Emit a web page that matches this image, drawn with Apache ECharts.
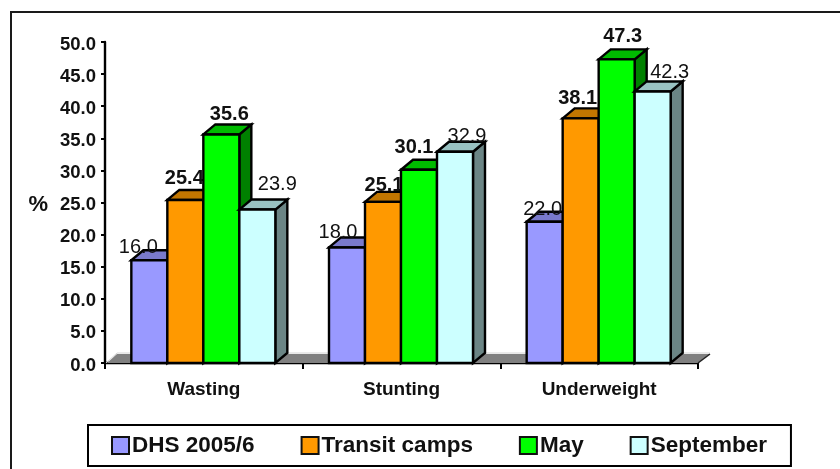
<!DOCTYPE html>
<html>
<head>
<meta charset="utf-8">
<style>
  html, body { margin: 0; padding: 0; background: #fff; }
  #frame { position: absolute; left: 10px; top: 11px; width: 840px; height: 470px; border: 2px solid #1a1a1a; box-sizing: border-box; }
  #chart { position: absolute; left: 0; top: 0; width: 840px; height: 469px; }
</style>
<script src="https://cdn.jsdelivr.net/npm/echarts@6/dist/echarts.min.js"></script>
</head>
<body>
<div id="frame"></div>
<div id="chart"></div>
<script>
const categories = ['Wasting', 'Stunting', 'Underweight'];
const dhs = [16.0, 18.0, 22.0];
const transit = [25.4, 25.1, 38.1];
const may = [35.6, 30.1, 47.3];
const september = [23.9, 32.9, 42.3];
const yTicks = { min: 0, max: 50, interval: 5 };

const FONT = '"Liberation Sans", Arial, sans-serif';
const DEPTH_X = 12;
const DEPTH_Y = 10;
const BAR_W = 36;

// front, top and side faces of each series
const palette = [
  { front: '#9999ff', top: '#7a7acc', side: '#5c5c99' },
  { front: '#ff9900', top: '#c27600', side: '#995c00' },
  { front: '#00ff00', top: '#00bb00', side: '#008000' },
  { front: '#ccffff', top: '#99c2c2', side: '#6b8585' }
];

// hand-placed value labels: pixel nudges per series and category
const labelNudges = [
  [[-11, 12], [-9, 10], [-2, 13]],
  [[-1, 4], [1, 9], [-3, 5]],
  [[8, 5], [-5, 3], [6, 2]],
  [[20, 0], [12, 10], [17, 6]]
];

// One 3D column: front rectangle plus projected top and side, and its value label
function columnRenderer(seriesIndex, bold) {
  const c = palette[seriesIndex];
  return function (params, api) {
    const val = api.value(1);
    const base = api.coord([api.value(0), 0]);
    const tip = api.coord([api.value(0), val]);
    const x = base[0] - 0.5 + (seriesIndex - 2) * BAR_W;
    const line = { stroke: '#000', lineWidth: 2.4, lineJoin: 'miter' };
    const nudge = labelNudges[seriesIndex][params.dataIndex];
    return {
      type: 'group',
      children: [
        { type: 'polygon', shape: { points: [[x + BAR_W, tip[1]], [x + BAR_W + DEPTH_X, tip[1] - DEPTH_Y], [x + BAR_W + DEPTH_X, base[1] - DEPTH_Y], [x + BAR_W, base[1]]] }, style: Object.assign({ fill: c.side }, line) },
        { type: 'polygon', shape: { points: [[x, tip[1]], [x + DEPTH_X, tip[1] - DEPTH_Y], [x + BAR_W + DEPTH_X, tip[1] - DEPTH_Y], [x + BAR_W, tip[1]]] }, style: Object.assign({ fill: c.top }, line) },
        { type: 'rect', shape: { x: x, y: tip[1], width: BAR_W, height: base[1] - tip[1] }, style: Object.assign({ fill: c.front }, line) },
        { type: 'text', x: x + BAR_W / 2 + nudge[0], y: tip[1] - DEPTH_Y - 5 + nudge[1], style: { text: val.toFixed(1), fill: '#111', font: (bold ? 'bold ' : '') + '20px ' + FONT, align: 'center', verticalAlign: 'bottom' }, z2: 10 }
      ]
    };
  };
}

// Floor of the 3D plot, running behind the columns
function floorRenderer(params, api) {
  const cs = params.coordSys;
  const y0 = api.coord([0, 0])[1];
  const l = cs.x, r = cs.x + cs.width;
  return {
    type: 'group',
    children: [
      { type: 'polygon', shape: { points: [[l + 2, y0], [l + DEPTH_X, y0 - DEPTH_Y + 1], [r + DEPTH_X, y0 - DEPTH_Y + 1], [r, y0]] }, style: { fill: '#808080' } },
      { type: 'line', shape: { x1: l + DEPTH_X, y1: y0 - DEPTH_Y, x2: r + DEPTH_X, y2: y0 - DEPTH_Y }, style: { stroke: '#d4d4d4', lineWidth: 1 } },
      { type: 'line', shape: { x1: l + 1, y1: y0, x2: l + DEPTH_X, y2: y0 - DEPTH_Y }, style: { stroke: '#d4d4d4', lineWidth: 1 } },
      { type: 'line', shape: { x1: r, y1: y0, x2: r + DEPTH_X, y2: y0 - DEPTH_Y + 1 }, style: { stroke: '#222', lineWidth: 1.5 } }
    ]
  };
}

function makeSeries(name, values, idx, bold) {
  return {
    name: name,
    type: 'custom',
    coordinateSystem: 'cartesian2d',
    renderItem: columnRenderer(idx, bold),
    encode: { x: 0, y: 1 },
    itemStyle: { color: palette[idx].front },
    data: values.map((v, i) => [i, v]),
    clip: false,
    z: 5 + idx
  };
}

const chart = echarts.init(document.getElementById('chart'), null, { renderer: 'canvas' });
chart.setOption({
  animation: false,
  backgroundColor: 'transparent',
  grid: { left: 105, right: 142, top: 42, bottom: 106, containLabel: false },
  xAxis: {
    type: 'category',
    data: categories,
    axisLine: { lineStyle: { color: '#000', width: 2.4 } },
    axisTick: { show: true, length: 6, alignWithLabel: false, lineStyle: { color: '#000', width: 2 } },
    axisLabel: { color: '#111', fontFamily: FONT, fontWeight: 'bold', fontSize: 19, margin: 17 }
  },
  yAxis: {
    type: 'value',
    min: yTicks.min,
    max: yTicks.max,
    interval: yTicks.interval,
    name: '%',
    nameLocation: 'middle',
    nameRotate: 0,
    nameGap: 57,
    nameTextStyle: { color: '#111', fontFamily: FONT, fontWeight: 'bold', fontSize: 22, verticalAlign: 'top', padding: [-9, 0, 0, 0] },
    splitLine: { show: false },
    axisLine: { show: true, lineStyle: { color: '#000', width: 2.4 } },
    axisTick: { show: true, length: 4, lineStyle: { color: '#000', width: 2 } },
    axisLabel: { color: '#111', fontFamily: FONT, fontWeight: 'bold', fontSize: 18.5, margin: 9, verticalAlign: 'top', padding: [-7, 0, 0, 0], formatter: v => v.toFixed(1) }
  },
  legend: {
    left: 88,
    top: 425,
    padding: [9, 24, 9, 23],
    itemGap: 46,
    itemWidth: 17,
    itemHeight: 17,
    icon: 'rect',
    borderColor: '#000',
    borderWidth: 2,
    data: ['DHS 2005/6', 'Transit camps', 'May', 'September'],
    itemStyle: { borderColor: '#111', borderWidth: 2 },
    textStyle: { color: '#111', fontFamily: FONT, fontWeight: 'bold', fontSize: 22.5, padding: [0, 0, 3, -2] }
  },
  series: [
    {
      name: 'floor',
      type: 'custom',
      coordinateSystem: 'cartesian2d',
      renderItem: floorRenderer,
      data: [[0, 0]],
      encode: { x: 0, y: 1 },
      clip: false,
      z: 1,
      silent: true
    },
    makeSeries('DHS 2005/6', dhs, 0, false),
    makeSeries('Transit camps', transit, 1, true),
    makeSeries('May', may, 2, true),
    makeSeries('September', september, 3, false)
  ]
});
</script>
</body>
</html>
